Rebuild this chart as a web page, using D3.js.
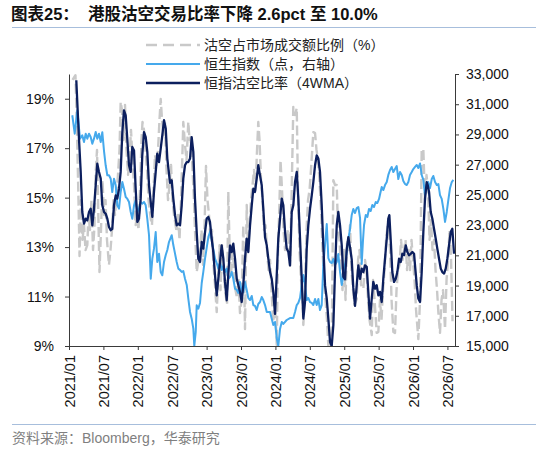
<!DOCTYPE html>
<html><head><meta charset="utf-8">
<script src="https://cdn.jsdelivr.net/npm/d3@7/dist/d3.min.js"></script>
<style>
html,body{margin:0;padding:0;background:#fff;}
svg{display:block;}
</style></head>
<body><svg id="c" width="550" height="449"></svg>
<script>
// ---------------- DATA ----------------
const titleText = "图表25：  港股沽空交易比率下降 2.6pct 至 10.0%";
const sourceText = "资料来源：Bloomberg，华泰研究";
const legendLabels = ["沽空占市场成交额比例（%）", "恒生指数（点，右轴）", "恒指沽空比率（4WMA）"];
const xTickLabels = ["2021/01","2021/07","2022/01","2022/07","2023/01","2023/07","2024/01","2024/07","2025/01","2025/07","2026/01","2026/07"];
const leftTicks = [9, 11, 13, 15, 17, 19];
const rightTicks = [15000, 17000, 19000, 21000, 23000, 25000, 27000, 29000, 31000, 33000];
const xDomain = [2021.0, 2026.61];
const leftDomain = [9, 20];
const rightDomain = [15000, 33000];

// weekly short-selling share of turnover (%) : [decimal year, value]
const shortRatio = [[2021.051,19.76],[2021.094,19.95],[2021.116,17.74],[2021.138,14.90],[2021.153,12.64],[2021.174,14.90],[2021.196,13.29],[2021.218,13.89],[2021.240,12.88],[2021.266,13.08],[2021.283,14.30],[2021.305,13.69],[2021.327,14.90],[2021.349,12.88],[2021.371,13.89],[2021.388,16.04],[2021.407,16.93],[2021.422,14.90],[2021.443,11.99],[2021.465,13.69],[2021.487,15.71],[2021.509,14.30],[2021.531,14.90],[2021.552,13.29],[2021.581,12.28],[2021.603,12.88],[2021.625,13.69],[2021.647,14.90],[2021.669,14.30],[2021.690,15.11],[2021.712,15.92],[2021.734,16.93],[2021.751,18.87],[2021.770,18.54],[2021.792,17.33],[2021.814,18.75],[2021.836,16.93],[2021.858,15.92],[2021.879,16.52],[2021.901,17.74],[2021.923,16.52],[2021.945,15.51],[2021.969,13.89],[2021.988,14.30],[2022.010,13.69],[2022.032,15.31],[2022.054,17.33],[2022.068,18.06],[2022.090,17.74],[2022.112,16.93],[2022.134,16.12],[2022.156,14.90],[2022.188,14.14],[2022.206,13.89],[2022.228,15.31],[2022.250,16.72],[2022.272,16.32],[2022.294,16.93],[2022.315,18.14],[2022.333,18.99],[2022.352,18.14],[2022.374,17.53],[2022.395,18.06],[2022.417,16.12],[2022.439,14.90],[2022.461,15.51],[2022.483,16.32],[2022.504,14.90],[2022.526,14.30],[2022.548,13.89],[2022.565,13.61],[2022.584,14.30],[2022.606,13.29],[2022.628,14.90],[2022.650,16.93],[2022.661,18.06],[2022.686,17.13],[2022.708,16.52],[2022.734,18.06],[2022.752,17.33],[2022.766,17.45],[2022.788,16.52],[2022.810,15.31],[2022.831,13.69],[2022.856,11.99],[2022.879,12.40],[2022.904,12.68],[2022.926,13.69],[2022.948,12.28],[2022.969,13.69],[2022.991,16.28],[2023.013,14.90],[2023.035,14.30],[2023.057,13.29],[2023.078,13.69],[2023.100,12.28],[2023.122,11.47],[2023.147,10.37],[2023.166,11.67],[2023.188,13.08],[2023.202,11.26],[2023.224,13.08],[2023.246,12.28],[2023.267,11.26],[2023.297,10.66],[2023.315,15.23],[2023.333,13.08],[2023.355,11.87],[2023.376,13.08],[2023.398,12.07],[2023.420,11.26],[2023.442,10.94],[2023.464,11.67],[2023.485,10.33],[2023.510,10.90],[2023.533,13.89],[2023.558,9.69],[2023.583,14.70],[2023.602,12.88],[2023.624,13.89],[2023.645,14.90],[2023.667,15.51],[2023.689,16.12],[2023.711,15.31],[2023.733,16.93],[2023.751,18.06],[2023.769,17.33],[2023.791,15.71],[2023.813,14.90],[2023.834,13.69],[2023.856,13.89],[2023.878,12.88],[2023.900,12.07],[2023.922,12.48],[2023.943,11.26],[2023.969,9.97],[2023.994,10.86],[2024.019,9.04],[2024.038,12.88],[2024.060,14.90],[2024.074,16.52],[2024.096,15.31],[2024.118,13.69],[2024.140,12.88],[2024.160,13.29],[2024.182,13.69],[2024.212,12.24],[2024.234,14.90],[2024.260,18.67],[2024.285,18.34],[2024.310,18.62],[2024.328,15.31],[2024.350,12.88],[2024.372,11.67],[2024.394,10.86],[2024.406,9.85],[2024.430,11.26],[2024.452,13.69],[2024.474,14.90],[2024.496,15.31],[2024.517,16.12],[2024.551,17.65],[2024.576,17.61],[2024.597,16.93],[2024.619,16.52],[2024.641,15.71],[2024.663,14.50],[2024.685,12.88],[2024.706,11.67],[2024.728,10.86],[2024.750,10.05],[2024.769,9.00],[2024.794,9.24],[2024.818,9.00],[2024.842,15.71],[2024.866,15.51],[2024.891,15.51],[2024.910,13.69],[2024.932,13.29],[2024.953,12.07],[2024.975,11.26],[2024.997,12.88],[2025.019,10.86],[2025.041,13.29],[2025.063,12.88],[2025.084,13.89],[2025.106,12.07],[2025.128,11.26],[2025.150,10.66],[2025.182,10.90],[2025.201,12.48],[2025.222,12.88],[2025.244,11.47],[2025.278,11.31],[2025.302,12.48],[2025.324,12.07],[2025.346,10.86],[2025.368,10.05],[2025.400,9.44],[2025.419,11.67],[2025.441,10.86],[2025.472,9.53],[2025.496,9.57],[2025.520,10.86],[2025.542,10.05],[2025.564,11.26],[2025.586,12.07],[2025.608,13.29],[2025.641,14.14],[2025.666,12.88],[2025.688,10.86],[2025.714,9.57],[2025.738,9.53],[2025.760,11.26],[2025.782,12.07],[2025.804,12.28],[2025.826,13.29],[2025.847,12.48],[2025.869,12.88],[2025.891,13.29],[2025.913,12.07],[2025.935,12.88],[2025.956,12.07],[2025.978,13.29],[2026.000,12.48],[2026.022,11.67],[2026.044,10.46],[2026.077,9.28],[2026.102,10.86],[2026.126,16.97],[2026.150,16.93],[2026.174,14.90],[2026.196,15.92],[2026.218,15.31],[2026.240,13.29],[2026.262,14.10],[2026.283,12.88],[2026.305,13.29],[2026.327,12.07],[2026.349,11.26],[2026.368,10.37],[2026.392,9.53],[2026.414,10.86],[2026.436,11.26],[2026.465,9.69],[2026.487,11.67],[2026.509,12.48],[2026.531,13.69],[2026.552,12.60],[2026.574,10.00]];

// Hang Seng Index (points, right axis)
const hsiIndex = [[2021.048,30270],[2021.083,29050],[2021.121,30600],[2021.160,28720],[2021.193,28940],[2021.218,28500],[2021.243,29050],[2021.266,28720],[2021.291,29050],[2021.315,28830],[2021.339,28390],[2021.363,28720],[2021.388,29160],[2021.411,28720],[2021.436,29050],[2021.461,28500],[2021.484,29150],[2021.509,27900],[2021.533,26960],[2021.557,26300],[2021.581,26300],[2021.606,26070],[2021.629,25190],[2021.654,26070],[2021.679,25630],[2021.702,24310],[2021.727,24090],[2021.751,25190],[2021.775,25850],[2021.799,25410],[2021.824,24860],[2021.847,24750],[2021.872,24530],[2021.897,23870],[2021.920,23420],[2021.945,24310],[2021.969,24640],[2021.993,23870],[2022.017,24090],[2022.042,24530],[2022.065,24420],[2022.090,24530],[2022.115,24310],[2022.138,23420],[2022.163,22330],[2022.188,19450],[2022.211,20780],[2022.235,21440],[2022.260,22540],[2022.283,20560],[2022.308,21110],[2022.333,19900],[2022.356,19680],[2022.381,20560],[2022.406,21020],[2022.429,21350],[2022.453,21880],[2022.493,22330],[2022.516,21680],[2022.541,21110],[2022.565,20560],[2022.589,20120],[2022.613,20030],[2022.638,19900],[2022.661,19960],[2022.686,19450],[2022.711,19040],[2022.734,18130],[2022.759,17250],[2022.783,16810],[2022.807,16150],[2022.821,15000],[2022.842,15930],[2022.856,17690],[2022.879,17470],[2022.904,17850],[2022.929,19170],[2022.952,19900],[2022.977,20780],[2023.001,21490],[2023.025,22210],[2023.054,22610],[2023.078,21880],[2023.097,21420],[2023.122,20780],[2023.147,20490],[2023.170,20120],[2023.195,20560],[2023.219,20030],[2023.243,20290],[2023.267,19900],[2023.292,20120],[2023.315,19450],[2023.340,19570],[2023.365,19900],[2023.388,19450],[2023.413,18790],[2023.438,18710],[2023.461,18510],[2023.485,19240],[2023.510,18570],[2023.533,18570],[2023.558,19240],[2023.583,18710],[2023.606,18180],[2023.631,18040],[2023.656,18310],[2023.679,17710],[2023.703,17650],[2023.728,17380],[2023.751,17780],[2023.776,17910],[2023.801,18240],[2023.824,18040],[2023.849,17710],[2023.874,17250],[2023.922,17250],[2023.969,16390],[2023.994,16590],[2024.019,15530],[2024.042,15000],[2024.067,16130],[2024.092,16590],[2024.115,16460],[2024.164,16720],[2024.212,16850],[2024.260,16850],[2024.285,17250],[2024.310,17710],[2024.333,17850],[2024.358,18180],[2024.382,19040],[2024.406,19700],[2024.430,19040],[2024.455,18040],[2024.478,18180],[2024.503,17910],[2024.528,17850],[2024.551,17710],[2024.576,18110],[2024.600,17710],[2024.624,18110],[2024.648,17380],[2024.673,17710],[2024.696,20360],[2024.721,21680],[2024.746,23070],[2024.769,20820],[2024.794,20560],[2024.818,20490],[2024.842,20760],[2024.866,20360],[2024.891,20560],[2024.914,21090],[2024.939,19900],[2024.964,19040],[2024.987,19630],[2025.012,20360],[2025.036,21220],[2025.060,22080],[2025.084,22740],[2025.109,23670],[2025.132,24070],[2025.157,23800],[2025.182,24130],[2025.205,24200],[2025.230,23470],[2025.244,21680],[2025.254,20430],[2025.273,22010],[2025.288,23010],[2025.313,23670],[2025.336,23540],[2025.360,24070],[2025.385,23930],[2025.408,24330],[2025.433,24200],[2025.458,24530],[2025.481,24460],[2025.506,24730],[2025.525,25120],[2025.545,25520],[2025.568,25320],[2025.593,25650],[2025.618,25850],[2025.641,26320],[2025.666,26650],[2025.690,26850],[2025.714,26510],[2025.738,26710],[2025.763,26910],[2025.786,26050],[2025.811,26510],[2025.836,26320],[2025.859,25920],[2025.884,25720],[2025.908,25650],[2025.932,25850],[2025.956,26320],[2025.981,26510],[2026.004,26710],[2026.029,26850],[2026.054,26980],[2026.077,26780],[2026.102,27080],[2026.126,26320],[2026.150,25990],[2026.174,24990],[2026.199,25720],[2026.222,25850],[2026.247,25460],[2026.272,26050],[2026.295,26250],[2026.320,25850],[2026.345,25650],[2026.368,25720],[2026.392,24990],[2026.417,24730],[2026.441,24070],[2026.465,23210],[2026.490,23870],[2026.513,24660],[2026.538,25460],[2026.563,25850],[2026.586,25990]];

// HSI short-selling ratio, 4-week moving average (%)
const shortRatio4WMA = [[2021.106,19.75],[2021.145,17.38],[2021.170,16.04],[2021.193,14.42],[2021.218,13.95],[2021.243,14.15],[2021.266,14.08],[2021.291,14.42],[2021.315,14.55],[2021.339,13.88],[2021.363,14.55],[2021.388,15.50],[2021.411,16.37],[2021.436,16.04],[2021.461,15.77],[2021.484,14.69],[2021.509,14.42],[2021.533,14.35],[2021.557,14.15],[2021.581,13.81],[2021.606,13.68],[2021.629,13.74],[2021.654,14.69],[2021.679,15.09],[2021.702,14.96],[2021.727,15.36],[2021.751,16.04],[2021.775,17.65],[2021.799,18.53],[2021.824,18.33],[2021.847,17.38],[2021.872,16.31],[2021.897,16.04],[2021.920,17.05],[2021.945,16.91],[2021.969,15.36],[2021.993,14.02],[2022.017,14.15],[2022.042,14.96],[2022.065,16.71],[2022.090,17.65],[2022.115,17.45],[2022.138,16.85],[2022.163,15.50],[2022.188,14.82],[2022.211,14.22],[2022.235,15.23],[2022.260,16.04],[2022.283,16.78],[2022.308,16.44],[2022.333,16.98],[2022.356,17.52],[2022.381,18.13],[2022.406,17.79],[2022.429,16.58],[2022.468,15.60],[2022.493,15.70],[2022.516,14.96],[2022.541,14.29],[2022.565,13.88],[2022.589,13.95],[2022.613,13.88],[2022.638,14.69],[2022.661,15.77],[2022.686,16.31],[2022.711,16.44],[2022.734,16.44],[2022.759,16.58],[2022.783,17.45],[2022.807,16.85],[2022.831,14.96],[2022.856,13.61],[2022.879,12.53],[2022.904,12.40],[2022.929,13.21],[2022.952,12.94],[2022.977,13.61],[2023.001,14.15],[2023.025,14.22],[2023.049,14.02],[2023.074,13.34],[2023.097,12.80],[2023.122,11.86],[2023.147,11.05],[2023.170,11.72],[2023.195,12.40],[2023.219,13.07],[2023.243,12.53],[2023.267,11.59],[2023.292,10.85],[2023.315,11.86],[2023.340,13.07],[2023.365,12.80],[2023.388,13.14],[2023.413,12.53],[2023.438,11.72],[2023.461,11.46],[2023.485,11.19],[2023.510,10.78],[2023.533,11.46],[2023.558,12.53],[2023.583,13.34],[2023.606,12.80],[2023.631,13.88],[2023.656,14.69],[2023.679,15.36],[2023.703,15.23],[2023.728,15.77],[2023.751,16.31],[2023.776,15.90],[2023.801,15.50],[2023.824,14.55],[2023.849,13.40],[2023.874,13.07],[2023.897,12.53],[2023.922,11.99],[2023.946,11.72],[2023.969,11.19],[2023.994,10.30],[2024.019,11.86],[2024.042,13.34],[2024.067,14.15],[2024.092,14.96],[2024.115,14.69],[2024.140,13.61],[2024.164,12.94],[2024.188,12.80],[2024.212,12.26],[2024.237,14.42],[2024.260,14.69],[2024.285,15.63],[2024.310,16.04],[2024.333,14.96],[2024.358,13.34],[2024.382,11.72],[2024.406,10.11],[2024.430,10.78],[2024.455,12.94],[2024.478,13.88],[2024.503,14.55],[2024.528,15.09],[2024.551,15.63],[2024.576,16.31],[2024.600,16.71],[2024.624,16.58],[2024.648,16.04],[2024.673,14.69],[2024.696,13.07],[2024.721,11.46],[2024.746,10.92],[2024.769,10.11],[2024.794,9.16],[2024.818,9.00],[2024.842,9.84],[2024.866,11.99],[2024.891,13.88],[2024.914,14.42],[2024.939,13.88],[2024.964,13.07],[2024.987,11.80],[2025.012,11.70],[2025.036,12.90],[2025.060,13.40],[2025.084,13.00],[2025.109,12.50],[2025.132,11.35],[2025.157,10.62],[2025.182,11.47],[2025.205,12.26],[2025.230,11.72],[2025.254,12.13],[2025.278,11.99],[2025.302,12.26],[2025.327,12.20],[2025.350,11.19],[2025.375,10.11],[2025.400,10.92],[2025.423,11.59],[2025.448,11.32],[2025.472,11.46],[2025.496,11.05],[2025.520,11.19],[2025.545,10.78],[2025.568,11.72],[2025.593,12.53],[2025.618,13.34],[2025.641,14.15],[2025.656,14.29],[2025.680,13.07],[2025.699,11.99],[2025.724,11.59],[2025.749,11.72],[2025.772,11.99],[2025.797,12.53],[2025.821,12.40],[2025.845,12.73],[2025.869,12.67],[2025.894,13.07],[2025.917,12.80],[2025.942,12.67],[2025.967,12.73],[2025.990,12.80],[2026.015,12.73],[2026.029,12.26],[2026.054,11.46],[2026.077,10.92],[2026.102,10.78],[2026.126,11.99],[2026.150,13.61],[2026.174,14.96],[2026.199,15.63],[2026.214,15.50],[2026.233,15.23],[2026.257,14.42],[2026.281,14.15],[2026.305,13.74],[2026.330,13.34],[2026.353,12.94],[2026.378,12.53],[2026.403,12.13],[2026.426,11.99],[2026.451,11.93],[2026.475,12.13],[2026.499,12.53],[2026.523,13.07],[2026.548,13.61],[2026.571,13.74],[2026.596,12.73]];

// ---------------- CHART ----------------
const svg = d3.select("#c");
const plot = {left: 69, right: 455, top: 74, bottom: 346};
const C_GRAY = "#c9c9c9", C_LIGHT = "#45a9ec", C_NAVY = "#0c1f5e", C_AXIS = "#3a3a3a";
const MIX = "'Liberation Sans',Arial,'Noto Sans CJK SC',sans-serif";
const LAT = "'Liberation Sans',Arial,sans-serif";

const x = d3.scaleLinear().domain(xDomain).range([plot.left, plot.right]);
const yL = d3.scaleLinear().domain(leftDomain).range([plot.bottom, plot.top]);
const yR = d3.scaleLinear().domain(rightDomain).range([plot.bottom, plot.top]);

// title
svg.append("text").attr("x", 11).attr("y", 20)
  .attr("font-family", MIX).attr("font-weight", "bold").attr("font-size", 16.5)
  .attr("fill", "#111").style("white-space","pre").text(titleText);
svg.append("line").attr("x1", 12).attr("x2", 536).attr("y1", 27.5).attr("y2", 27.5)
  .attr("stroke", "#a7bedc").attr("stroke-width", 1);

// source
svg.append("line").attr("x1", 12).attr("x2", 536).attr("y1", 424.5).attr("y2", 424.5)
  .attr("stroke", "#a7bedc").attr("stroke-width", 1);
svg.append("text").attr("x", 12).attr("y", 443)
  .attr("font-family", MIX).attr("font-size", 14).attr("fill", "#7f7f7f").text(sourceText);

// clip
svg.append("clipPath").attr("id", "clip").append("rect")
  .attr("x", plot.left).attr("y", plot.top - 2).attr("width", plot.right - plot.left).attr("height", plot.bottom - plot.top + 3);

const g = svg.append("g").attr("clip-path", "url(#clip)");
const lineL = d3.line().x(d => x(d[0])).y(d => yL(d[1]));
const lineR = d3.line().x(d => x(d[0])).y(d => yR(d[1]));

g.append("path").datum(shortRatio).attr("d", lineL).attr("fill", "none")
  .attr("stroke", C_GRAY).attr("stroke-width", 2.4).attr("stroke-dasharray", "10,4").attr("stroke-linejoin","round");
g.append("path").datum(hsiIndex).attr("d", lineR).attr("fill", "none")
  .attr("stroke", C_LIGHT).attr("stroke-width", 2).attr("stroke-linejoin","round");
g.append("path").datum(shortRatio4WMA).attr("d", lineL).attr("fill", "none")
  .attr("stroke", C_NAVY).attr("stroke-width", 2.3).attr("stroke-linejoin","round");

// axes
function styleAxis(sel){
  sel.selectAll("path.domain").attr("stroke", C_AXIS).attr("stroke-width", 1);
  sel.selectAll(".tick line").attr("stroke", C_AXIS).attr("stroke-width", 1);
  sel.selectAll(".tick text").attr("font-family", LAT).attr("font-size", 14).attr("fill", "#111");
}
const axL = svg.append("g").attr("transform", `translate(${plot.left},0)`)
  .call(d3.axisLeft(yL).tickValues(leftTicks).tickSize(4).tickSizeOuter(0).tickPadding(11).tickFormat(d => d + "%"));
styleAxis(axL);
const axR = svg.append("g").attr("transform", `translate(${plot.right},0)`)
  .call(d3.axisRight(yR).tickValues(rightTicks).tickSize(4).tickSizeOuter(0).tickPadding(7).tickFormat(d3.format(",")));
styleAxis(axR);
const xTickVals = xTickLabels.map(s => { const [yy, mm] = s.split("/").map(Number); return yy + (mm - 1) / 12; });
const axB = svg.append("g").attr("transform", `translate(0,${plot.bottom})`)
  .call(d3.axisBottom(x).tickValues(xTickVals).tickSize(4).tickSizeOuter(0)
    .tickFormat((d, i) => xTickLabels[i]));
styleAxis(axB);
axB.selectAll(".tick text").attr("font-size", 14.5).attr("transform", "rotate(-90)").attr("text-anchor", "end")
  .attr("x", -9).attr("y", 0).attr("dy", "0.35em");

// legend
const legY = [45, 64, 83];
const legStyles = [
  {stroke: C_GRAY, width: 2.4, dash: "11,6"},
  {stroke: C_LIGHT, width: 2, dash: null},
  {stroke: C_NAVY, width: 2.3, dash: null}
];
legendLabels.forEach((lab, i) => {
  const l = svg.append("line").attr("x1", 146).attr("x2", 200).attr("y1", legY[i]).attr("y2", legY[i])
    .attr("stroke", legStyles[i].stroke).attr("stroke-width", legStyles[i].width);
  if (legStyles[i].dash) l.attr("stroke-dasharray", legStyles[i].dash);
  svg.append("text").attr("x", 204).attr("y", legY[i]).attr("dy", "0.36em")
    .attr("font-family", MIX).attr("font-size", 14).attr("fill", "#222").text(lab);
});
</script>
</body></html>
